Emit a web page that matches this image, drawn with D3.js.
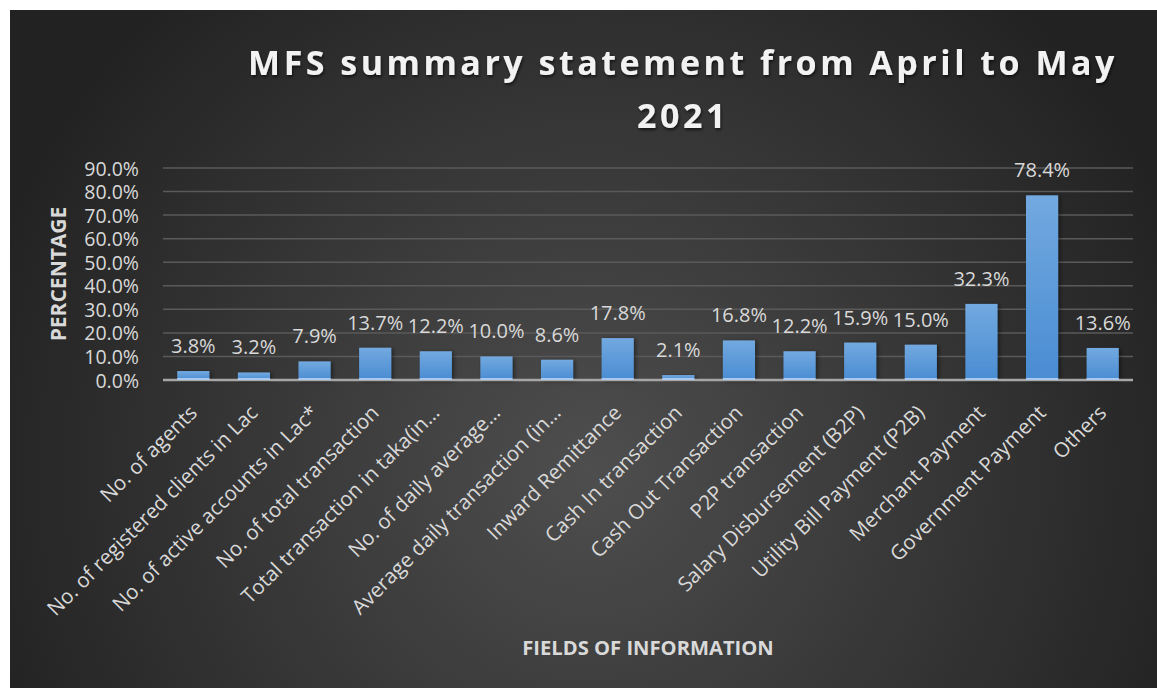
<!DOCTYPE html>
<html>
<head>
<meta charset="utf-8">
<script src="https://cdn.jsdelivr.net/npm/d3@7"></script>
<style>
  html, body { margin: 0; padding: 0; background: #ffffff; }
  svg { display: block; }
</style>
</head>
<body>
<svg id="chart" width="1157" height="688"></svg>
<script>
const categories = [
  "No. of agents",
  "No. of registered clients in Lac",
  "No. of active accounts in Lac*",
  "No. of total transaction",
  "Total transaction in taka(in…",
  "No. of daily average…",
  "Average daily transaction (in…",
  "Inward Remittance",
  "Cash In transaction",
  "Cash Out Transaction",
  "P2P transaction",
  "Salary Disbursement (B2P)",
  "Utility Bill Payment (P2B)",
  "Merchant Payment",
  "Government Payment",
  "Others"
];
const values = [3.8, 3.2, 7.9, 13.7, 12.2, 10.0, 8.6, 17.8, 2.1, 16.8, 12.2, 15.9, 15.0, 32.3, 78.4, 13.6];
const yTicks = [0, 10, 20, 30, 40, 50, 60, 70, 80, 90];
const titleLines = ["MFS summary statement from April to May", "2021"];
const yAxisTitle = "PERCENTAGE";
const xAxisTitle = "FIELDS OF INFORMATION";

const W = 1157, H = 688;
const svg = d3.select("#chart");
const defs = svg.append("defs");

const bg = defs.append("radialGradient").attr("id", "bg")
  .attr("gradientUnits", "userSpaceOnUse")
  .attr("cx", 590).attr("cy", 470).attr("r", 640);
bg.append("stop").attr("offset", "0%").attr("stop-color", "#4e4e4e");
bg.append("stop").attr("offset", "100%").attr("stop-color", "#222222");

const barGrad = defs.append("linearGradient").attr("id", "barGrad")
  .attr("x1", 0).attr("y1", 0).attr("x2", 0).attr("y2", 1);
barGrad.append("stop").attr("offset", "0%").attr("stop-color", "#72a9e0");
barGrad.append("stop").attr("offset", "100%").attr("stop-color", "#4a8cd2");

const shadow = defs.append("filter").attr("id", "shadow")
  .attr("x", "-20%").attr("y", "-20%").attr("width", "150%").attr("height", "150%");
shadow.append("feDropShadow").attr("dx", 2).attr("dy", 1).attr("stdDeviation", 2)
  .attr("flood-color", "#000").attr("flood-opacity", 0.45);

const tshadow = defs.append("filter").attr("id", "tshadow")
  .attr("x", "-10%").attr("y", "-30%").attr("width", "120%").attr("height", "160%");
tshadow.append("feDropShadow").attr("dx", 1).attr("dy", 2).attr("stdDeviation", 1.5)
  .attr("flood-color", "#000").attr("flood-opacity", 0.6);

svg.append("rect").attr("x", 10).attr("y", 10).attr("width", W - 10).attr("height", H - 10)
  .attr("fill", "url(#bg)");

const plot = { left: 163, right: 1133, top: 168, bottom: 380 };
const x = d3.scaleBand().domain(categories).range([plot.left, plot.right])
  .paddingInner(0.47).paddingOuter(0.235);
const y = d3.scaleLinear().domain([0, 90]).range([plot.bottom, plot.top]);

const font = "'Open Sans', 'Noto Sans', sans-serif";
const txt = "#d9d9d9";

// gridlines
svg.append("g").selectAll("line").data(yTicks.filter(t => t > 0)).join("line")
  .attr("x1", plot.left).attr("x2", plot.right)
  .attr("y1", d => y(d)).attr("y2", d => y(d))
  .attr("stroke", "#5a5a5a").attr("stroke-width", 1.5);

// y axis labels
const yAxis = d3.axisLeft(y).tickValues(yTicks).tickFormat(d => d.toFixed(1) + "%").tickSize(0).tickPadding(24);
const yg = svg.append("g").attr("transform", `translate(${plot.left},0)`).call(yAxis);
yg.select(".domain").remove();
yg.selectAll("text").attr("fill", txt).attr("font-family", font).attr("font-size", 19.5)
  .attr("dy", "0.36em");

// bars
svg.append("g").selectAll("rect").data(values).join("rect")
  .attr("x", (d, i) => x(categories[i]))
  .attr("y", d => y(d))
  .attr("width", x.bandwidth())
  .attr("height", d => y(0) - y(d))
  .attr("fill", "url(#barGrad)")
  .attr("filter", "url(#shadow)");

// baseline
svg.append("line").attr("x1", plot.left).attr("x2", plot.right)
  .attr("y1", y(0)).attr("y2", y(0))
  .attr("stroke", "#a6a6a6").attr("stroke-width", 2.5);
// light rims on bar bottoms
svg.append("g").selectAll("rect").data(values).join("rect")
  .attr("x", (d, i) => x(categories[i]))
  .attr("y", y(0) - 2)
  .attr("width", x.bandwidth())
  .attr("height", 2)
  .attr("fill", "#a9c9ee");

// data labels
svg.append("g").selectAll("text").data(values).join("text")
  .attr("x", (d, i) => x(categories[i]) + x.bandwidth() / 2)
  .attr("y", d => y(d) - 18)
  .attr("text-anchor", "middle")
  .attr("fill", txt).attr("font-family", font).attr("font-size", 20)
  .text(d => d.toFixed(1) + "%");

// category labels
const xAxis = d3.axisBottom(x).tickSize(0).tickPadding(0);
const xg = svg.append("g").attr("transform", `translate(0,${plot.bottom})`).call(xAxis);
xg.select(".domain").remove();
xg.selectAll(".tick text")
  .attr("fill", txt).attr("font-family", font).attr("font-size", 20.5)
  .attr("text-anchor", "end")
  .attr("y", 0).attr("dy", 0)
  .attr("transform", "translate(5,34) rotate(-45)");

// axis titles
svg.append("text")
  .attr("transform", `translate(66,${(plot.top + plot.bottom) / 2}) rotate(-90)`)
  .attr("text-anchor", "middle")
  .attr("fill", txt).attr("font-family", font).attr("font-size", 21).attr("font-weight", "bold")
  .text(yAxisTitle);

svg.append("text")
  .attr("x", (plot.left + plot.right) / 2).attr("y", 655)
  .attr("text-anchor", "middle")
  .attr("fill", txt).attr("font-family", font).attr("font-size", 20.2).attr("font-weight", "bold")
  .text(xAxisTitle);

// title
const title = svg.append("text")
  .attr("text-anchor", "middle")
  .attr("fill", "#f2f2f2").attr("font-family", font).attr("font-size", 34).attr("font-weight", "bold")
  .attr("letter-spacing", 3.5)
  .attr("filter", "url(#tshadow)");
title.selectAll("tspan").data(titleLines).join("tspan")
  .attr("x", 683).attr("y", (d, i) => 75 + i * 53)
  .text(d => d);
</script>
</body>
</html>
